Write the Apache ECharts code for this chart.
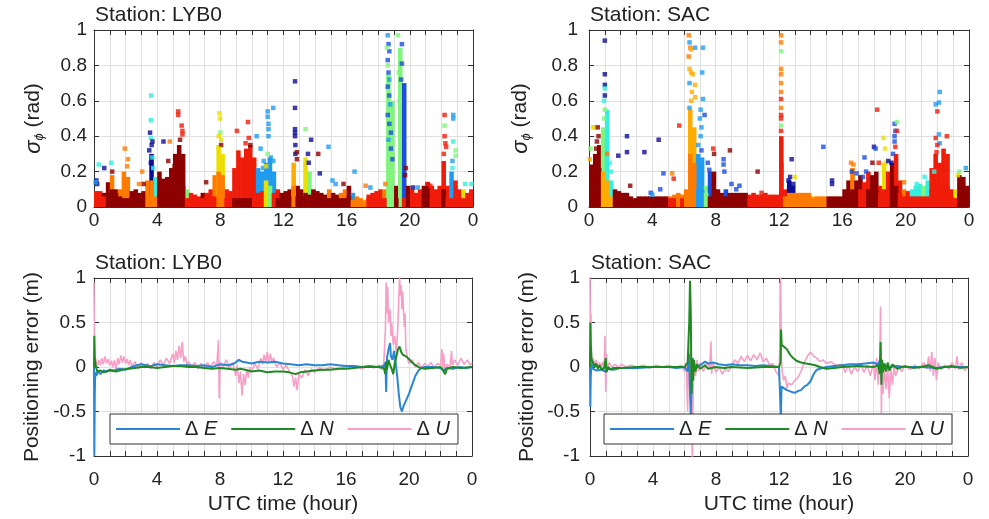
<!DOCTYPE html>
<html>
<head>
<meta charset="utf-8">
<script src="https://cdn.jsdelivr.net/npm/echarts@6/dist/echarts.min.js"></script>
<style>
html, body { margin: 0; padding: 0; background: #fff; }
#chart { width: 989px; height: 519px; }
</style>
</head>
<body>
<div id="chart"></div>
<script>
// ---- data ----
var hourTicks = ['0', '4', '8', '12', '16', '20', '0'];
var binHours = 0.25;

// dense clutter of sigma_phi, one column per 15 min: top of the cloud and its colour (satellite)
var lybTop = [
  0.09, 0.09, 0.08, 0.14, 0.18, 0.1, 0.1, 0.2, 0.17, 0.09, 0.1, 0.08, 0.09, 0.15, 0.3, 0.17, 0.2, 0.16, 0.17, 0.22, 0.3, 0.35, 0.3, 0.1,
  0.08, 0.07, 0.06, 0.08, 0.08, 0.1, 0.18, 0.35, 0.3, 0.1, 0.09, 0.22, 0.32, 0.28, 0.33, 0.35, 0.28, 0.22, 0.2, 0.25, 0.28, 0.2, 0.1, 0.08,
  0.09, 0.1, 0.25, 0.12, 0.1, 0.28, 0.2, 0.1, 0.09, 0.08, 0.07, 0.1, 0.08, 0.07, 0.08, 0.1, 0.12, 0.08, 0.06, 0.05, 0.04, 0.07, 0.08, 0.09,
  0.1, 0.1, 0.75, 0.6, 0.12, 0.9, 0.7, 0.12, 0.1, 0.08, 0.1, 0.12, 0.14, 0.12, 0.1, 0.12, 0.26, 0.12, 0.2, 0.15, 0.1, 0.1, 0.08, 0.1
];
var lybTopSat = 'RRDDODOOODDDDONCDDDDDDDG' + 'RRRDRROYYRRRRRRRRLLLLLRD' + 'DDADDYGDDDDODDOODLOOARRR' + 'ROGGDGBDRRRDDRRRRRLRRYRR';
var lybLow = [
  0.07, 0.06, 0.06, 0.08, 0.1, 0.08, 0.06, 0.05, 0.05, 0.06, 0.06, 0.06, 0.06, 0.06, 0.15, 0.06, 0.1, 0.1, 0.1, 0.1, 0.12, 0.12, 0.12, 0.05,
  0.05, 0.05, 0.05, 0.05, 0.06, 0.06, 0.06, 0.2, 0.18, 0.05, 0.05, 0.05, 0.05, 0.05, 0.05, 0.05, 0.05, 0.08, 0.09, 0.15, 0.12, 0.08, 0.05, 0.05,
  0.06, 0.06, 0.12, 0.06, 0.06, 0.08, 0.07, 0.05, 0.05, 0.05, 0.05, 0.05, 0.05, 0.05, 0.05, 0.05, 0.06, 0.04, 0.04, 0.04, 0.03, 0.05, 0.05, 0.05,
  0.05, 0.05, 0, 0, 0.05, 0, 0.05, 0.05, 0.05, 0.05, 0.05, 0.06, 0.07, 0.06, 0.05, 0.05, 0.1, 0.05, 0.05, 0.05, 0.05, 0.05, 0.05, 0.05
];
var lybLowSat = 'RRRDDDDDDDDDDOOODDDDDDDR' + 'RRRRRRROORRDDDDDRRRYGRDD' + 'DDODDDDDDDDDDDDDDOOOORRR' + 'RRRRDRRDRRRDDRRRDRRRRRRR';

var sacTop = [
  0.24, 0.3, 0.35, 0.45, 0.55, 0.15, 0.1, 0.09, 0.08, 0.08, 0.06, 0.05, 0.06, 0.06, 0.06, 0.06, 0.06, 0.06, 0.06, 0.06, 0.06, 0.07, 0.08, 0.07,
  0.1, 0.55, 0.45, 0.3, 0.28, 0.12, 0.2, 0.2, 0.1, 0.08, 0.1, 0.08, 0.08, 0.08, 0.08, 0.08, 0.07, 0.08, 0.07, 0.07, 0.08, 0.07, 0.07, 0.07,
  0.4, 0.1, 0.15, 0.12, 0.08, 0.08, 0.08, 0.08, 0.06, 0.06, 0.06, 0.06, 0.06, 0.06, 0.06, 0.06, 0.1, 0.15, 0.22, 0.15, 0.18, 0.14, 0.2, 0.18,
  0.2, 0.12, 0.25, 0.2, 0.25, 0.3, 0.15, 0.1, 0.09, 0.1, 0.12, 0.13, 0.12, 0.15, 0.22, 0.3, 0.25, 0.33, 0.3, 0.1, 0.1, 0.18, 0.17, 0.12
];
var sacTopSat = 'DDDGCCDDDDDDDDDDDDDDOOOO' + 'OAALLGBDDDBDDDDDRRRRRRRR' + 'RRNNOOOOAOOODDDDDDODDRRD' + 'DRYRDRRORCCCGCRRRRRRYDDD';
var sacLow = [
  0.2, 0.2, 0.22, 0.2, 0.15, 0.06, 0.06, 0.06, 0.05, 0.05, 0.05, 0.04, 0.05, 0.05, 0.05, 0.05, 0.05, 0.05, 0.05, 0.05, 0.05, 0.05, 0.06, 0.05,
  0.08, 0.3, 0.25, 0.1, 0.1, 0.08, 0.06, 0.1, 0.06, 0.06, 0.06, 0.06, 0.06, 0.06, 0.06, 0.06, 0.05, 0.05, 0.05, 0.05, 0.05, 0.05, 0.05, 0.05,
  0.25, 0.06, 0.08, 0.08, 0.06, 0.06, 0.06, 0.06, 0.05, 0.05, 0.05, 0.05, 0.05, 0.05, 0.05, 0.05, 0.06, 0.08, 0.1, 0.1, 0.1, 0.1, 0.1, 0.1,
  0.1, 0.08, 0.1, 0.1, 0.12, 0.12, 0.08, 0.06, 0.06, 0.06, 0.06, 0.06, 0.06, 0.06, 0.1, 0.12, 0.12, 0.12, 0.12, 0.06, 0.05, 0.08, 0.08, 0.08
];
var sacLowSat = 'DDDAAADDDDDDDDDDDDDDRROR' + 'OOOLLGDDDDDDDDDDRRRRRRRR' + 'ROOOOOOOOOOODDDDDDDDRRDD' + 'DRRRDDRRRRRRRRRRRRRRRDDD';

// isolated sigma_phi samples above the cloud: [hour, sigma, satellite colour]
var lybDots = [
  [0.15, 0.15, 'N'], [0.2, 0.13, 'N'], [0.1, 0.14, 'L'], [0.3, 0.24, 'C'], [0.65, 0.22, 'N'], [1.1, 0.25, 'C'], [1.15, 0.2, 'D'],
  [1.95, 0.33, 'O'], [2.15, 0.27, 'O'], [2.1, 0.23, 'O'], [2.85, 0.13, 'O'], [3.05, 0.2, 'O'], [3.15, 0.13, 'D'],
  [3.5, 0.32, 'N'], [3.55, 0.42, 'N'], [3.6, 0.39, 'C'], [3.62, 0.63, 'C'], [3.6, 0.49, 'C'], [3.65, 0.35, 'N'], [3.7, 0.37, 'N'],
  [3.7, 0.28, 'C'], [3.75, 0.22, 'C'], [3.6, 0.25, 'N'], [4.4, 0.37, 'N'], [4.8, 0.37, 'O'], [4.7, 0.26, 'D'], [5.1, 0.23, 'D'],
  [5.33, 0.54, 'R'], [5.33, 0.52, 'R'], [5.55, 0.46, 'R'], [5.6, 0.43, 'R'], [5.6, 0.41, 'R'], [5.45, 0.38, 'D'], [7.1, 0.14, 'D'],
  [7.95, 0.53, 'Y'], [7.98, 0.5, 'Y'], [8.0, 0.42, 'G'], [7.9, 0.4, 'Y'], [8.05, 0.38, 'Y'], [8.05, 0.35, 'D'], [7.9, 0.33, 'Y'],
  [9.05, 0.43, 'R'], [9.75, 0.48, 'R'], [9.8, 0.39, 'R'], [9.6, 0.36, 'R'], [9.9, 0.35, 'D'], [10.3, 0.4, 'L'], [10.55, 0.33, 'L'],
  [11.0, 0.54, 'L'], [11.0, 0.51, 'L'], [11.05, 0.47, 'L'], [11.05, 0.44, 'L'], [11.05, 0.4, 'L'], [11.35, 0.56, 'L'], [10.75, 0.26, 'L'],
  [10.7, 0.22, 'L'], [11.2, 0.28, 'L'], [11.0, 0.3, 'G'], [10.9, 0.23, 'Y'], [11.35, 0.26, 'L'],
  [12.73, 0.71, 'N'], [12.73, 0.56, 'N'], [12.73, 0.44, 'N'], [12.73, 0.42, 'N'], [12.73, 0.4, 'N'], [12.75, 0.35, 'N'], [12.75, 0.3, 'N'],
  [12.85, 0.31, 'D'], [12.85, 0.27, 'D'], [13.4, 0.44, 'G'], [13.75, 0.38, 'N'], [13.55, 0.3, 'N'], [13.6, 0.25, 'N'], [14.2, 0.3, 'D'],
  [14.3, 0.19, 'N'], [14.85, 0.34, 'L'], [15.1, 0.15, 'L'], [15.3, 0.13, 'L'], [16.5, 0.2, 'L'], [15.8, 0.13, 'D'], [17.2, 0.12, 'O'], [17.5, 0.11, 'L'],
  [18.6, 0.97, 'L'], [18.65, 0.92, 'B'], [18.7, 0.88, 'B'], [18.6, 0.83, 'B'], [18.65, 0.76, 'B'], [18.7, 0.72, 'L'], [18.6, 0.68, 'B'],
  [18.7, 0.63, 'B'], [18.75, 0.58, 'L'], [18.6, 0.52, 'B'], [18.7, 0.47, 'B'], [18.8, 0.42, 'B'], [18.65, 0.38, 'L'], [18.8, 0.33, 'B'],
  [18.9, 0.27, 'B'], [18.55, 0.9, 'G'], [18.6, 0.8, 'G'], [19.25, 0.97, 'G'], [19.5, 0.92, 'B'], [19.5, 0.81, 'B'], [19.45, 0.72, 'B'],
  [19.3, 0.76, 'G'], [19.35, 0.6, 'G'], [19.75, 0.22, 'D'], [19.7, 0.18, 'D'], [18.45, 0.13, 'O'],
  [20.2, 0.11, 'N'], [20.5, 0.11, 'L'], [21.1, 0.13, 'R'], [21.3, 0.12, 'R'],
  [22.2, 0.52, 'R'], [22.2, 0.46, 'G'], [22.2, 0.4, 'R'], [22.25, 0.36, 'R'], [22.3, 0.34, 'R'], [22.15, 0.3, 'R'],
  [22.75, 0.52, 'L'], [22.75, 0.5, 'L'], [22.75, 0.37, 'C'], [22.9, 0.32, 'G'], [22.9, 0.29, 'G'], [22.7, 0.26, 'L'], [22.7, 0.22, 'C'],
  [23.5, 0.13, 'C'], [23.9, 0.13, 'C']
];
var sacDots = [
  [0.05, 0.27, 'A'], [0.1, 0.33, 'G'], [0.25, 0.45, 'Y'], [0.35, 0.45, 'Y'], [0.55, 0.45, 'D'], [0.5, 0.37, 'D'], [0.6, 0.4, 'D'], [0.45, 0.33, 'D'],
  [1.0, 0.94, 'N'], [1.0, 0.75, 'N'], [1.0, 0.69, 'N'], [1.0, 0.67, 'C'], [1.0, 0.63, 'N'], [0.95, 0.6, 'C'], [1.0, 0.55, 'G'], [0.95, 0.5, 'G'],
  [1.3, 0.25, 'C'], [1.4, 0.2, 'C'], [1.15, 0.3, 'O'], [1.85, 0.29, 'N'], [2.4, 0.4, 'N'], [2.4, 0.31, 'N'], [2.6, 0.12, 'D'], [3.5, 0.31, 'N'],
  [4.4, 0.38, 'N'], [4.7, 0.19, 'B'], [5.25, 0.19, 'O'], [5.35, 0.16, 'R'], [5.7, 0.46, 'R'], [4.5, 0.1, 'B'], [3.9, 0.08, 'B'], [4.0, 0.07, 'L'],
  [6.3, 0.97, 'O'], [6.35, 0.93, 'L'], [6.4, 0.9, 'O'], [6.45, 0.89, 'A'], [6.3, 0.85, 'O'], [6.7, 0.9, 'L'], [7.2, 0.9, 'L'], [6.35, 0.78, 'A'],
  [6.45, 0.76, 'A'], [6.55, 0.75, 'A'], [6.35, 0.7, 'L'], [6.7, 0.69, 'A'], [6.5, 0.65, 'A'], [6.7, 0.62, 'A'], [6.35, 0.56, 'L'], [6.45, 0.6, 'A'],
  [7.15, 0.76, 'L'], [7.2, 0.61, 'L'], [7.05, 0.55, 'L'], [7.0, 0.5, 'L'], [7.1, 0.45, 'L'], [7.05, 0.4, 'L'], [7.3, 0.52, 'B'], [6.9, 0.35, 'L'],
  [7.1, 0.32, 'B'], [7.5, 0.25, 'B'], [7.6, 0.21, 'B'], [7.85, 0.33, 'R'], [7.9, 0.3, 'D'], [8.5, 0.27, 'B'], [8.5, 0.24, 'B'], [8.55, 0.2, 'B'],
  [8.9, 0.32, 'D'], [9.0, 0.13, 'B'], [9.3, 0.1, 'B'], [9.5, 0.12, 'B'], [10.65, 0.2, 'D'], [10.9, 0.08, 'R'],
  [12.13, 0.97, 'O'], [12.13, 0.93, 'O'], [12.13, 0.88, 'G'], [12.13, 0.78, 'O'], [12.13, 0.75, 'O'], [12.13, 0.7, 'O'], [12.13, 0.65, 'O'],
  [12.13, 0.61, 'R'], [12.13, 0.56, 'O'], [12.13, 0.52, 'R'], [12.13, 0.5, 'R'], [12.13, 0.46, 'G'], [12.13, 0.43, 'R'],
  [12.8, 0.27, 'N'], [12.7, 0.17, 'N'], [12.6, 0.15, 'N'], [12.9, 0.13, 'N'], [13.0, 0.17, 'Y'], [14.8, 0.34, 'B'], [15.35, 0.15, 'N'], [15.35, 0.13, 'N'],
  [16.55, 0.25, 'O'], [16.7, 0.24, 'O'], [16.6, 0.2, 'B'], [16.9, 0.19, 'B'], [17.4, 0.28, 'B'], [17.5, 0.2, 'B'], [17.3, 0.17, 'B'], [17.9, 0.25, 'D'],
  [18.2, 0.55, 'R'], [18.0, 0.34, 'N'], [18.1, 0.33, 'B'], [18.3, 0.25, 'R'], [18.6, 0.39, 'Y'], [18.7, 0.33, 'Y'], [18.75, 0.25, 'Y'], [18.9, 0.26, 'N'],
  [19.3, 0.47, 'B'], [19.35, 0.43, 'B'], [19.3, 0.4, 'B'], [19.3, 0.37, 'B'], [19.35, 0.34, 'R'], [19.45, 0.48, 'G'], [19.45, 0.43, 'R'], [19.2, 0.3, 'B'],
  [19.1, 0.25, 'N'], [19.9, 0.14, 'O'], [20.7, 0.13, 'C'], [21.2, 0.17, 'C'], [21.8, 0.2, 'C'],
  [21.9, 0.58, 'L'], [22.0, 0.54, 'R'], [22.1, 0.59, 'L'], [22.15, 0.65, 'L'], [21.9, 0.39, 'R'], [21.95, 0.31, 'R'], [22.1, 0.41, 'L'],
  [22.15, 0.36, 'L'], [22.6, 0.4, 'R'], [22.0, 0.35, 'R'], [23.8, 0.22, 'L'], [23.4, 0.2, 'G'], [23.3, 0.18, 'Y']
];

// positioning error [hour, metres]
var lybE = [
  [0, 0], [0.02, -1], [0.05, -0.3], [0.08, -0.06], [0.15, -0.1], [0.25, -0.05], [0.4, -0.08], [0.6, -0.04], [0.8, -0.05], [1.0, -0.03],
  [1.3, -0.04], [1.6, -0.02], [2.0, -0.03], [2.4, 0.0], [2.7, 0.02], [3.0, 0.03], [3.3, 0.02], [3.6, 0.01], [4.0, 0.03], [4.5, 0.02],
  [5.0, 0.01], [5.5, 0.02], [6.0, 0.02], [6.5, 0.01], [7.0, 0.02], [7.5, 0.0], [8.0, 0.03], [8.5, 0.02], [8.9, 0.04], [9.2, 0.08],
  [9.4, 0.06], [9.7, 0.05], [10.0, 0.04], [10.5, 0.06], [11.0, 0.05], [11.5, 0.06], [12.0, 0.04], [12.5, 0.03], [13.0, 0.02], [13.5, 0.03],
  [14.0, 0.02], [14.5, 0.02], [15.0, 0.03], [15.5, 0.02], [16.0, 0.01], [16.5, 0.01], [17.0, 0.0], [17.5, 0.01], [18.0, 0.0], [18.4, 0.01],
  [18.5, 0.05], [18.55, -0.28], [18.6, 0.1], [18.7, 0.2], [18.8, 0.27], [18.85, 0.12], [18.95, 0.08], [19.05, 0.18], [19.15, 0.05],
  [19.25, -0.1], [19.35, -0.3], [19.45, -0.45], [19.55, -0.5], [19.65, -0.44], [19.8, -0.38], [20.0, -0.3], [20.2, -0.2], [20.4, -0.1],
  [20.6, -0.04], [20.8, -0.01], [21.0, 0.0], [21.5, 0.0], [22.0, -0.01], [22.2, -0.04], [22.4, -0.01], [22.8, -0.02], [23.2, 0.0],
  [23.6, -0.01], [24, 0.0]
];
var lybN = [
  [0, 0], [0.02, 0.35], [0.05, 0.1], [0.1, 0.02], [0.2, -0.05], [0.4, -0.04], [0.6, -0.06], [0.8, -0.05], [1.0, -0.04], [1.4, -0.05],
  [1.8, -0.03], [2.2, -0.02], [2.6, -0.01], [3.0, 0.0], [3.5, 0.0], [4.0, -0.01], [4.5, 0.0], [5.0, 0.01], [5.5, 0.01], [6.0, 0.0],
  [6.5, 0.0], [7.0, -0.01], [7.5, -0.02], [8.0, -0.01], [8.5, -0.02], [9.0, -0.03], [9.3, -0.02], [9.6, -0.03], [10.0, -0.05], [10.5, -0.04],
  [11.0, -0.06], [11.5, -0.05], [12.0, -0.05], [12.4, -0.06], [12.8, -0.08], [13.1, -0.06], [13.5, -0.05], [14.0, -0.04], [14.5, -0.03],
  [15.0, -0.03], [15.5, -0.02], [16.0, -0.02], [16.5, -0.01], [17.0, 0.0], [17.5, 0.0], [18.0, 0.0], [18.4, -0.01], [18.5, -0.08],
  [18.55, 0.06], [18.6, -0.03], [18.7, 0.08], [18.8, 0.02], [18.9, -0.02], [19.0, -0.08], [19.1, 0.04], [19.2, 0.12], [19.3, 0.2],
  [19.4, 0.23], [19.5, 0.17], [19.6, 0.14], [19.8, 0.12], [20.0, 0.09], [20.2, 0.05], [20.4, 0.02], [20.7, -0.01], [21.0, -0.02],
  [21.5, -0.01], [22.0, 0.0], [22.2, -0.05], [22.3, -0.08], [22.4, -0.02], [22.8, 0.0], [23.3, -0.01], [24, 0.0]
];
var lybU = [
  [0, 0.95], [0.03, 0.3], [0.06, 0.05], [0.1, 0.1], [0.2, 0.0], [0.3, 0.08], [0.4, 0.02], [0.5, 0.1], [0.6, 0.03], [0.7, 0.12], [0.8, 0.04],
  [0.9, 0.09], [1.0, 0.02], [1.1, 0.07], [1.2, 0.0], [1.3, 0.08], [1.4, -0.04], [1.5, 0.1], [1.6, 0.03], [1.7, 0.13], [1.8, 0.05], [1.9, 0.12],
  [2.0, 0.04], [2.1, 0.09], [2.2, 0.02], [2.3, 0.08], [2.4, 0.0], [2.6, 0.06], [2.8, -0.02], [3.0, 0.05], [3.2, -0.01], [3.4, 0.04],
  [3.6, -0.02], [3.8, 0.05], [4.0, 0.0], [4.2, 0.08], [4.4, 0.02], [4.6, 0.1], [4.8, 0.04], [5.0, 0.15], [5.1, 0.05], [5.2, 0.18],
  [5.3, 0.08], [5.4, 0.24], [5.5, 0.1], [5.6, 0.28], [5.7, 0.06], [5.8, 0.12], [5.9, 0.02], [6.0, 0.06], [6.2, 0.0], [6.4, 0.05],
  [6.6, -0.02], [6.8, 0.04], [7.0, -0.01], [7.2, 0.05], [7.4, 0.0], [7.6, 0.06], [7.8, 0.02], [7.9, 0.3], [7.95, -0.35], [8.0, 0.05],
  [8.2, 0.0], [8.4, 0.08], [8.6, -0.02], [8.8, 0.05], [9.0, -0.1], [9.1, 0.02], [9.2, -0.18], [9.3, -0.05], [9.4, -0.32], [9.5, -0.08],
  [9.6, -0.2], [9.7, -0.02], [9.8, -0.12], [9.9, 0.0], [10.0, -0.06], [10.2, 0.04], [10.4, -0.02], [10.6, 0.1], [10.7, 0.03], [10.8, 0.14],
  [10.9, 0.05], [11.0, 0.17], [11.1, 0.06], [11.2, 0.15], [11.3, 0.04], [11.4, 0.1], [11.6, 0.0], [11.8, 0.05], [12.0, -0.03], [12.2, 0.02],
  [12.4, -0.05], [12.6, -0.1], [12.7, -0.22], [12.8, -0.12], [12.9, -0.26], [13.0, -0.08], [13.2, -0.12], [13.4, -0.03], [13.6, -0.1],
  [13.8, -0.02], [14.0, -0.06], [14.3, -0.01], [14.6, -0.04], [15.0, 0.0], [15.4, -0.03], [15.8, 0.0], [16.2, -0.02], [16.6, 0.01],
  [17.0, -0.02], [17.4, 0.01], [17.8, -0.01], [18.1, 0.02], [18.3, -0.03], [18.4, 0.05], [18.5, 0.4], [18.55, 0.95], [18.6, 0.6],
  [18.65, 0.9], [18.7, 0.5], [18.8, 0.65], [18.85, 0.35], [18.9, 0.5], [19.0, 0.25], [19.1, 0.35], [19.2, 0.15], [19.3, 0.5], [19.4, 1.02],
  [19.45, 0.8], [19.5, 0.92], [19.55, 0.65], [19.6, 0.85], [19.7, 0.45], [19.75, 0.6], [19.8, 0.2], [19.9, 0.1], [20.0, 0.04], [20.2, 0.08],
  [20.4, 0.0], [20.6, 0.05], [20.8, -0.01], [21.0, 0.04], [21.2, 0.0], [21.4, 0.05], [21.6, -0.01], [21.8, 0.04], [22.0, 0.02], [22.1, 0.2],
  [22.15, -0.05], [22.2, 0.15], [22.3, -0.06], [22.4, 0.03], [22.6, 0.0], [22.7, 0.18], [22.75, 0.02], [22.9, 0.08], [23.1, 0.02],
  [23.3, 0.1], [23.5, 0.03], [23.7, 0.08], [23.9, 0.02], [24, 0.05]
];
var sacE = [
  [0, 0], [0.02, -0.45], [0.05, -0.1], [0.1, 0.05], [0.2, -0.02], [0.4, -0.04], [0.7, -0.03], [1.0, -0.05], [1.1, -0.02], [1.5, -0.03],
  [2.0, -0.01], [3.0, -0.01], [4.0, 0.0], [5.0, 0.0], [5.5, -0.01], [6.0, 0.0], [6.2, -0.05], [6.3, 0.15], [6.35, -0.3], [6.4, -0.55],
  [6.45, -0.2], [6.5, 0.1], [6.6, -0.05], [6.8, 0.0], [7.0, 0.02], [7.3, 0.06], [7.5, 0.04], [7.8, 0.05], [8.2, 0.03], [8.6, 0.02],
  [9.0, 0.03], [9.5, 0.02], [10.0, 0.02], [10.5, 0.01], [11.0, 0.02], [11.5, 0.01], [12.0, 0.0], [12.08, -0.02], [12.12, -0.55],
  [12.16, -0.22], [12.25, -0.24], [12.5, -0.26], [12.8, -0.28], [13.0, -0.29], [13.2, -0.27], [13.4, -0.26], [13.6, -0.22], [13.8, -0.2],
  [14.0, -0.16], [14.2, -0.08], [14.4, -0.03], [14.6, -0.02], [15.0, 0.0], [15.5, 0.01], [16.0, 0.02], [16.5, 0.03], [17.0, 0.03],
  [17.5, 0.04], [18.0, 0.05], [18.3, 0.03], [18.45, 0.1], [18.5, -0.05], [18.6, 0.03], [19.0, 0.0], [19.5, 0.01], [20.0, 0.0],
  [21.0, 0.0], [22.0, -0.01], [22.5, 0.0], [23.0, 0.0], [24, 0.0]
];
var sacN = [
  [0, 0], [0.02, 0.5], [0.05, 0.25], [0.1, 0.08], [0.2, 0.05], [0.3, 0.0], [0.4, 0.04], [0.5, -0.02], [0.6, 0.02], [0.75, -0.03],
  [0.9, -0.01], [1.0, 0.1], [1.05, -0.06], [1.15, 0.0], [1.3, -0.03], [1.5, -0.01], [2.0, -0.01], [3.0, 0.0], [4.0, 0.0], [5.0, 0.0],
  [6.0, 0.0], [6.2, 0.05], [6.3, 0.5], [6.35, 0.97], [6.4, 0.6], [6.45, -0.3], [6.5, 0.1], [6.55, -0.15], [6.6, 0.08], [6.7, -0.05],
  [6.8, 0.03], [7.0, -0.02], [7.3, 0.02], [7.5, -0.02], [8.0, 0.0], [8.5, -0.01], [9.0, 0.0], [10.0, -0.01], [11.0, 0.0], [12.0, 0.0],
  [12.1, 0.05], [12.13, 0.42], [12.17, 0.25], [12.3, 0.23], [12.5, 0.2], [12.7, 0.14], [12.9, 0.1], [13.1, 0.07], [13.4, 0.05],
  [13.7, 0.04], [14.0, 0.03], [14.3, 0.02], [14.6, 0.0], [15.0, -0.02], [15.5, -0.01], [16.0, 0.0], [17.0, 0.01], [18.0, 0.0],
  [18.3, 0.02], [18.4, -0.08], [18.45, 0.28], [18.5, -0.2], [18.55, 0.08], [18.6, -0.06], [18.7, 0.04], [18.8, -0.05], [18.9, 0.05],
  [19.0, -0.04], [19.2, 0.03], [19.5, -0.02], [20.0, 0.01], [20.5, -0.01], [21.0, 0.0], [21.5, 0.02], [22.0, -0.02], [22.5, 0.0],
  [23.0, 0.01], [23.5, -0.01], [24, 0.0]
];
var sacU = [
  [0, 1.05], [0.03, 0.1], [0.06, 0.6], [0.1, 0.05], [0.2, 0.1], [0.3, 0.02], [0.4, 0.08], [0.5, -0.02], [0.6, 0.05], [0.7, 0.0],
  [0.8, 0.06], [0.9, -0.05], [0.95, 0.35], [1.0, -0.28], [1.05, 0.15], [1.1, -0.05], [1.2, 0.05], [1.4, 0.0], [1.6, 0.03], [1.8, -0.01],
  [2.0, 0.03], [2.3, 0.0], [2.6, 0.02], [3.0, 0.0], [3.4, 0.02], [3.8, -0.01], [4.2, 0.02], [4.6, 0.0], [5.0, 0.02], [5.4, -0.01],
  [5.8, 0.02], [6.0, -0.05], [6.1, 0.05], [6.2, -0.5], [6.25, 0.2], [6.3, -0.2], [6.4, 0.4], [6.45, -0.6], [6.5, -1.05], [6.55, -0.3],
  [6.6, 0.05], [6.7, -0.1], [6.8, 0.08], [6.9, -0.05], [7.0, 0.05], [7.2, -0.05], [7.4, 0.05], [7.6, 0.0], [7.68, 0.29], [7.72, -0.08],
  [7.8, 0.05], [8.0, -0.06], [8.2, 0.0], [8.4, -0.08], [8.6, -0.02], [8.8, -0.05], [9.0, 0.02], [9.2, 0.08], [9.4, 0.04], [9.6, 0.12],
  [9.8, 0.06], [10.0, 0.13], [10.2, 0.07], [10.4, 0.14], [10.6, 0.08], [10.8, 0.16], [11.0, 0.06], [11.2, 0.1], [11.4, 0.02],
  [11.6, 0.04], [11.8, -0.05], [12.0, -0.1], [12.05, 0.2], [12.1, 1.05], [12.15, 0.1], [12.2, -0.05], [12.3, -0.15], [12.4, -0.1],
  [12.5, -0.24], [12.6, -0.18], [12.8, -0.2], [13.0, -0.15], [13.2, -0.12], [13.4, -0.05], [13.6, 0.05], [13.8, 0.12], [14.0, 0.17],
  [14.2, 0.12], [14.4, 0.1], [14.6, 0.06], [14.8, 0.08], [15.0, 0.04], [15.3, 0.06], [15.6, 0.02], [16.0, 0.03], [16.2, -0.06],
  [16.4, 0.02], [16.6, -0.08], [16.8, 0.0], [17.0, -0.05], [17.2, 0.03], [17.4, -0.06], [17.6, 0.02], [17.8, -0.1], [18.0, 0.05],
  [18.1, -0.15], [18.2, 0.1], [18.3, -0.2], [18.4, 0.1], [18.45, 0.68], [18.5, -0.52], [18.55, 0.05], [18.6, -0.3], [18.7, 0.0],
  [18.8, -0.25], [18.9, 0.02], [19.0, -0.35], [19.1, -0.02], [19.2, -0.2], [19.3, 0.0], [19.4, -0.1], [19.6, 0.0], [19.8, -0.05],
  [20.0, 0.02], [20.3, -0.03], [20.6, 0.02], [20.9, -0.02], [21.2, 0.05], [21.4, -0.02], [21.5, 0.12], [21.6, -0.05], [21.7, 0.17],
  [21.8, -0.1], [21.9, 0.1], [22.0, -0.15], [22.1, 0.05], [22.3, -0.03], [22.5, 0.02], [22.8, -0.02], [23.0, 0.05], [23.2, -0.02],
  [23.3, 0.12], [23.4, -0.03], [23.6, 0.05], [23.8, -0.04], [24, 0.0]
];

// ---- styling ----
var jet = {
  D: '#8c0000', R: '#f01c0a', O: '#ff7b00', A: '#ffab00', Y: '#ecdf00',
  G: '#80f57c', C: '#35eedf', L: '#1f9cf0', B: '#1c4fe0', N: '#0d0d96'
};
var FONT = '"Liberation Sans", Arial, sans-serif';
var INK = '#222';
var EDGE = '#333';
var GRIDC = '#e0e0e0';

var boxes = [
  { left: 94, top: 30, width: 379, height: 177 },
  { left: 589, top: 30, width: 380, height: 177 },
  { left: 94, top: 278, width: 378, height: 178 },
  { left: 590, top: 278, width: 378, height: 178 }
];
var labelGapX = [4, 4, 14, 14];
var labelGapY = [7, 11, 8, 10];
var nameGapY = [48, 56, 51, 52];

function binData(h, sat) {
  var out = [];
  for (var i = 0; i < h.length; i++) {
    out.push({ value: [i * binHours, (i + 1) * binHours, h[i]], itemStyle: { color: jet[sat.charAt(i)] } });
  }
  return out;
}
function dotData(list) {
  return list.map(function (p) {
    return { value: [p[0], p[1]], itemStyle: { color: jet[p[2]] } };
  });
}
function drawBin(params, api) {
  var a = api.coord([api.value(0), api.value(2)]);
  var b = api.coord([api.value(1), 0]);
  return {
    type: 'rect',
    shape: { x: a[0], y: a[1], width: b[0] - a[0] + 0.6, height: b[1] - a[1] },
    style: { fill: api.visual('color') }
  };
}

var xAxes = [], yAxes = [];
boxes.forEach(function (b, i) {
  var lower = i >= 2;
  var tick = { show: true, inside: true, length: 5, lineStyle: { color: EDGE } };
  xAxes.push({
    type: 'value', gridIndex: i, position: 'bottom', min: 0, max: 24, interval: 4,
    axisLine: { show: true, onZero: false, lineStyle: { color: EDGE, width: 1 } },
    axisTick: tick,
    minorTick: { show: true, splitNumber: 4, length: 5, lineStyle: { color: EDGE } },
    splitLine: { show: true, lineStyle: { color: GRIDC, width: 1 } },
    minorSplitLine: { show: true, lineStyle: { color: GRIDC, width: 1 } },
    axisLabel: {
      margin: labelGapX[i], fontSize: 19, color: INK, fontFamily: FONT,
      formatter: function (v) { return hourTicks[Math.round(v / 4)]; }
    },
    name: lower ? 'UTC time (hour)' : '', nameLocation: 'middle', nameGap: 38,
    nameTextStyle: { fontSize: 21, color: INK, fontFamily: FONT }
  });
  xAxes.push({
    type: 'value', gridIndex: i, position: 'top', min: 0, max: 24, interval: 4,
    axisLine: { show: true, onZero: false, lineStyle: { color: EDGE, width: 1 } },
    axisTick: tick,
    minorTick: { show: true, splitNumber: 4, length: 5, lineStyle: { color: EDGE } },
    splitLine: { show: false }, axisLabel: { show: false }
  });
  var yName = lower ? 'Positioning error (m)' : '{s|σ}{p|ϕ} (rad)';
  yAxes.push({
    type: 'value', gridIndex: i, position: 'left',
    min: lower ? -1 : 0, max: 1, interval: lower ? 0.5 : 0.2,
    axisLine: { show: true, onZero: false, lineStyle: { color: EDGE, width: 1 } },
    axisTick: tick,
    splitLine: { show: true, lineStyle: { color: GRIDC, width: 1 } },
    axisLabel: { margin: labelGapY[i], fontSize: 19, color: INK, fontFamily: FONT },
    name: yName, nameLocation: 'middle', nameGap: nameGapY[i],
    nameTextStyle: {
      fontSize: 21, color: INK, fontFamily: FONT,
      rich: {
        s: { fontSize: 22, fontStyle: 'italic', color: INK, fontFamily: FONT },
        p: { fontSize: 13, fontStyle: 'italic', color: INK, fontFamily: FONT, padding: [12, 0, 0, 0] }
      }
    }
  });
  yAxes.push({
    type: 'value', gridIndex: i, position: 'right',
    min: lower ? -1 : 0, max: 1, interval: lower ? 0.5 : 0.2,
    axisLine: { show: true, onZero: false, lineStyle: { color: EDGE, width: 1 } },
    axisTick: tick, splitLine: { show: false }, axisLabel: { show: false }
  });
});

function clutter(i, top, topSat, low, lowSat, dots) {
  return [
    { type: 'custom', xAxisIndex: 2 * i, yAxisIndex: 2 * i, renderItem: drawBin, clip: true,
      encode: { x: [0, 1], y: 2 }, data: binData(top, topSat), z: 2, silent: true },
    { type: 'custom', xAxisIndex: 2 * i, yAxisIndex: 2 * i, renderItem: drawBin, clip: true,
      encode: { x: [0, 1], y: 2 }, data: binData(low, lowSat), z: 3, silent: true },
    { type: 'scatter', xAxisIndex: 2 * i, yAxisIndex: 2 * i, symbol: 'rect', symbolSize: 4.5,
      data: dotData(dots), z: 4, silent: true }
  ];
}
function errLines(i, e, n, u) {
  var common = { type: 'line', xAxisIndex: 2 * i, yAxisIndex: 2 * i, symbol: 'none', showSymbol: false,
    sampling: 'none', clip: true, silent: true };
  return [
    Object.assign({ name: 'ΔU', data: u, z: 2, color: '#f6a0c8', lineStyle: { width: 1.6, color: '#f6a0c8' } }, common),
    Object.assign({ name: 'ΔN', data: n, z: 4, color: '#1f8a22', lineStyle: { width: 2, color: '#1f8a22' } }, common),
    Object.assign({ name: 'ΔE', data: e, z: 3, color: '#2a86d0', lineStyle: { width: 2, color: '#2a86d0' } }, common)
  ];
}

var stations = ['LYB0', 'SAC', 'LYB0', 'SAC'];
var titles = boxes.map(function (b, i) {
  return {
    text: 'Station: ' + stations[i], left: b.left + 1, top: b.top - 25, padding: 0,
    textStyle: { fontSize: 21, fontWeight: 'normal', color: INK, fontFamily: FONT }
  };
});

var legends = [2, 3].map(function (i) {
  return {
    left: boxes[i].left + (i === 2 ? 16 : 14), top: 414, orient: 'horizontal',
    data: ['ΔE', 'ΔN', 'ΔU'], icon: 'rect', itemWidth: 64, itemHeight: 2, itemGap: 14,
    padding: [4, 8, 4, 6], borderColor: EDGE, borderWidth: 1, borderRadius: 0, backgroundColor: '#fff',
    selectedMode: false,
    formatter: function (n) { return '{d|Δ }{e|' + n.slice(1) + '}'; },
    textStyle: {
      fontSize: 20, color: INK, fontFamily: FONT, lineHeight: 22,
      rich: {
        d: { fontSize: 20, color: INK, fontFamily: FONT, lineHeight: 22 },
        e: { fontSize: 20, fontStyle: 'italic', color: INK, fontFamily: FONT, lineHeight: 22 }
      }
    }
  };
});

var chart = echarts.init(document.getElementById('chart'), null, { renderer: 'canvas' });
chart.setOption({
  backgroundColor: '#fff',
  animation: false,
  title: titles,
  legend: legends,
  grid: boxes.map(function (b) {
    return { left: b.left, top: b.top, width: b.width, height: b.height, show: false, outerBoundsMode: 'none' };
  }),
  xAxis: xAxes,
  yAxis: yAxes,
  series: []
    .concat(clutter(0, lybTop, lybTopSat, lybLow, lybLowSat, lybDots))
    .concat(clutter(1, sacTop, sacTopSat, sacLow, sacLowSat, sacDots))
    .concat(errLines(2, lybE, lybN, lybU))
    .concat(errLines(3, sacE, sacN, sacU))
});
</script>
</body>
</html>
